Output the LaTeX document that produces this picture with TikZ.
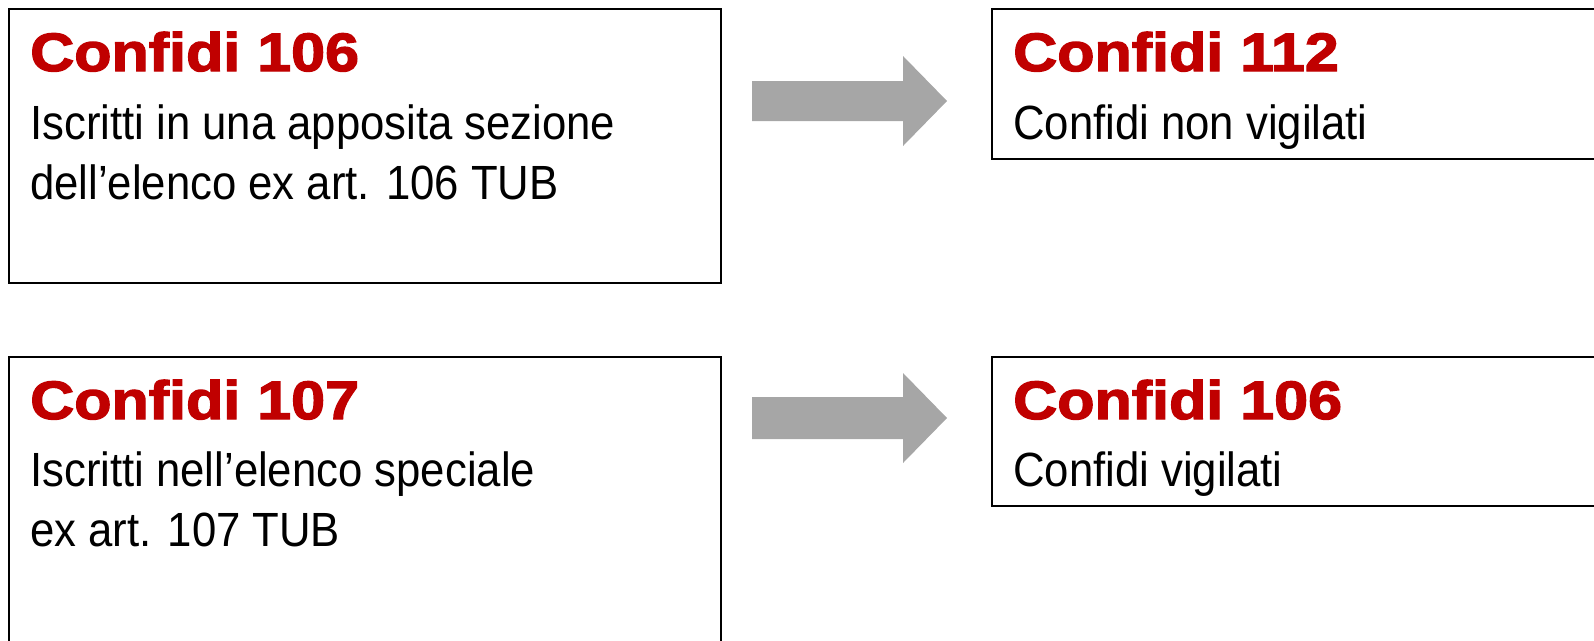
\documentclass[tikz,border=0pt]{standalone}
\usepackage{fontspec}
\setmainfont{Liberation Sans}
\newfontfamily\bodyfont{Liberation Sans}[FakeStretch=0.91]
\newfontfamily\titlefont{Liberation Sans}[FakeStretch=1.13,FakeBold=2.5]
\usepackage{xcolor}
\usetikzlibrary{calc}

\definecolor{confred}{HTML}{C00000}
\definecolor{arrgray}{HTML}{A6A6A6}

\tikzset{
  box/.style={draw=black,line width=2.2pt,fill=white,anchor=north west,inner sep=0pt},
  title/.style={anchor=base west,inner sep=0pt,text=confred,font=\titlefont\bfseries\fontsize{54}{60}\selectfont},
  body/.style={anchor=base west,inner sep=0pt,font=\bodyfont\fontsize{48}{58}\selectfont},
  fatarrow/.style={fill=arrgray,draw=none}
}

\begin{document}
\begin{tikzpicture}[x=1pt,y=-1pt]
        \useasboundingbox (0,0) rectangle (1594,640);

        % boxes
        \node[box,minimum width=712pt,minimum height=274pt] (b106) at (8,8) {};
        \node[box,minimum width=712pt,minimum height=300pt] (b107) at (8,356) {};
        \node[box,minimum width=620pt,minimum height=150pt] (n112) at (991,8) {};
        \node[box,minimum width=620pt,minimum height=149pt] (n106) at (991,356) {};

        % texts
        \node[title] (t106) at (30,71) {Confidi 106};
        \node[body] (d106a) at (30,139) {Iscritti in una apposita sezione};
        \node[body] (d106b) at (30,199) {dell’elenco ex art. 106 TUB};

        \node[title] (t107) at (30,419) {Confidi 107};
        \node[body] (d107a) at (30,486) {Iscritti nell’elenco speciale};
        \node[body] (d107b) at (30,546) {ex art. 107 TUB};

        \node[title] (t112) at (1013,71) {Confidi 112};
        \node[body] (d112) at (1013,139) {Confidi non vigilati};

        \node[title] (tv106) at (1013,419) {Confidi 106};
        \node[body] (dv106) at (1013,486) {Confidi vigilati};

        % arrows
        \coordinate (a1s) at ($(b106.east |- 0,101)+(30,0)$);
        \coordinate (a1t) at ($(n112.west |- 0,101)+(-44,0)$);
        \fill[fatarrow] ($(a1s)+(0,-20)$) -- ($(a1t)+(-44,-20)$) -- ($(a1t)+(-44,-45)$)
            -- (a1t) -- ($(a1t)+(-44,45)$) -- ($(a1t)+(-44,20)$) -- ($(a1s)+(0,20)$) -- cycle;

        \coordinate (a2s) at ($(b107.east |- 0,418)+(30,0)$);
        \coordinate (a2t) at ($(n106.west |- 0,418)+(-44,0)$);
        \fill[fatarrow] ($(a2s)+(0,-21)$) -- ($(a2t)+(-44,-21)$) -- ($(a2t)+(-44,-45)$)
            -- (a2t) -- ($(a2t)+(-44,45)$) -- ($(a2t)+(-44,21)$) -- ($(a2s)+(0,21)$) -- cycle;
    \end{tikzpicture}
\end{document}
